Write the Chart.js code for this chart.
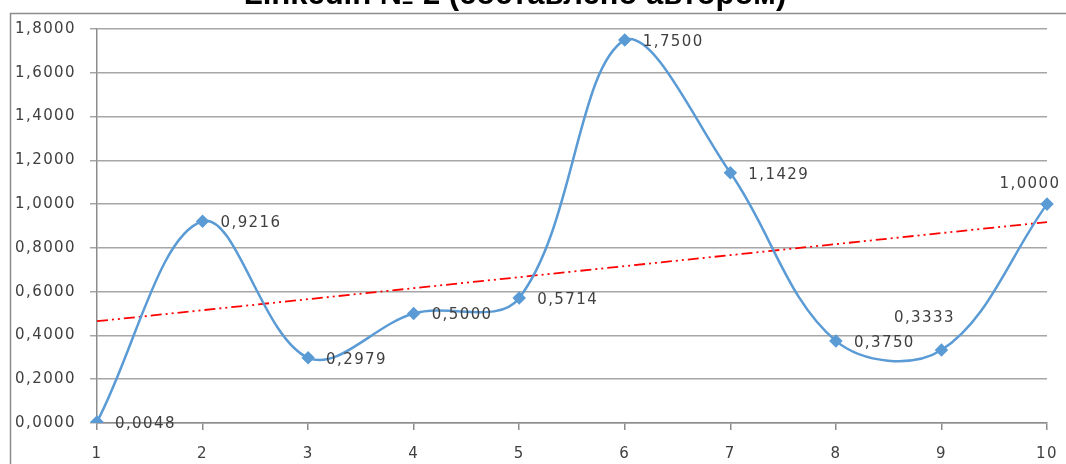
<!DOCTYPE html>
<html>
<head>
<meta charset="utf-8">
<script src="https://cdn.jsdelivr.net/npm/chart.js@4"></script>
<style>
  html, body { margin: 0; padding: 0; background: #fff; overflow: hidden; }
  #wrap { width: 1066px; height: 464px; }
</style>
</head>
<body>
<div id="wrap"><canvas id="myChart" width="1066" height="464"></canvas></div>
<script>
// data
let categories = ['1', '2', '3', '4', '5', '6', '7', '8', '9', '10']
let values = [0.0048, 0.9216, 0.2979, 0.5000, 0.5714, 1.7500, 1.1429, 0.3750, 0.3333, 1.0000]
let trend = [0.465, null, null, null, null, null, null, null, null, 0.918]
let yTicks = [0, 0.2, 0.4, 0.6, 0.8, 1.0, 1.2, 1.4, 1.6, 1.8]
let titleText = 'Linkedin № 2 (составлено автором)'

// where each data label sits relative to its point
let labelSpots = ['right', 'right', 'right', 'right', 'right', 'right', 'right', 'right', 'aboveLeft', 'above']

const fmt = v => v.toFixed(4).replace('.', ',')
const tickFont = { family: 'DejaVu Sans', size: 15 }
const spacing = '1.4px'

const framePlugin = {
  id: 'frame',
  beforeDraw(chart) {
    let c = chart.ctx
    c.letterSpacing = spacing
    c.save()
    c.fillStyle = '#fff'
    c.fillRect(0, 0, chart.width, chart.height)
    c.strokeStyle = '#8c8c8c'
    c.lineWidth = 1.5
    c.beginPath()
    c.moveTo(10.5, 464)
    c.lineTo(10.5, 13.5)
    c.lineTo(1066, 13.5)
    c.stroke()
    c.restore()
  },
  afterDraw(chart) {
    let c = chart.ctx
    c.save()
    c.letterSpacing = '0px'
    c.fillStyle = '#000'
    c.font = 'bold 31px "Liberation Sans"'
    c.textAlign = 'center'
    c.textBaseline = 'alphabetic'
    c.fillText(titleText, 515, 4)
    c.restore()
  }
}

const labelPlugin = {
  id: 'pointLabels',
  afterDatasetsDraw(chart) {
    let c = chart.ctx
    let meta = chart.getDatasetMeta(0)
    c.save()
    c.letterSpacing = spacing
    c.fillStyle = '#404040'
    c.font = '15px "DejaVu Sans"'
    c.textBaseline = 'middle'
    meta.data.forEach((pt, i) => {
      let txt = fmt(values[i])
      let spot = labelSpots[i]
      if (spot == 'right') {
        c.textAlign = 'left'
        c.fillText(txt, pt.x + 18, pt.y + 2)
      } else if (spot == 'aboveLeft') {
        c.textAlign = 'center'
        c.fillText(txt, pt.x - 17, pt.y - 32)
      } else {
        c.textAlign = 'center'
        c.fillText(txt, pt.x - 17, pt.y - 20)
      }
    })
    c.restore()
  }
}

const ctx = document.getElementById('myChart')

new Chart(ctx, {
  type: 'line',
  data: {
    labels: categories,
    datasets: [{
      data: values,
      borderColor: '#5b9bd5',
      backgroundColor: '#5b9bd5',
      borderWidth: 2.5,
      tension: 0.36,
      pointStyle: 'rectRot',
      pointRadius: 5,
      pointHoverRadius: 5,
      order: 1
    }, {
      data: trend,
      spanGaps: true,
      borderColor: '#ff0000',
      borderWidth: 1.8,
      borderDash: [11, 4, 2, 4, 2, 4],
      pointRadius: 0,
      tension: 0,
      order: 2
    }]
  },
  options: {
    responsive: false,
    animation: false,
    events: [],
    layout: { padding: { top: 29, right: 19, left: 0, bottom: 0 } },
    plugins: {
      legend: { display: false },
      tooltip: { enabled: false },
      title: { display: false }
    },
    scales: {
      x: {
        offset: false,
        grid: {
          drawOnChartArea: false,
          drawTicks: true,
          tickLength: 7,
          color: '#8c8c8c',
          lineWidth: 1.5
        },
        border: { color: '#8c8c8c', width: 1.5 },
        ticks: { color: '#404040', font: tickFont, padding: 15, maxRotation: 0 },
        afterFit: scale => {
          scale.height = 41
          scale.paddingLeft = 0
          scale.paddingRight = 0
        }
      },
      y: {
        min: 0,
        max: 1.8,
        afterBuildTicks: scale => { scale.ticks = yTicks.map(v => ({ value: v })) },
        grid: {
          color: '#a6a6a6',
          lineWidth: 1.5,
          tickLength: 7
        },
        border: { color: '#8c8c8c', width: 1.5 },
        ticks: {
          color: '#404040',
          font: tickFont,
          padding: 14,
          callback: v => fmt(v)
        },
        afterFit: scale => {
          scale.width = 97
          scale.paddingTop = 0
          scale.paddingBottom = 0
        }
      }
    }
  },
  plugins: [framePlugin, labelPlugin]
})
</script>
</body>
</html>
